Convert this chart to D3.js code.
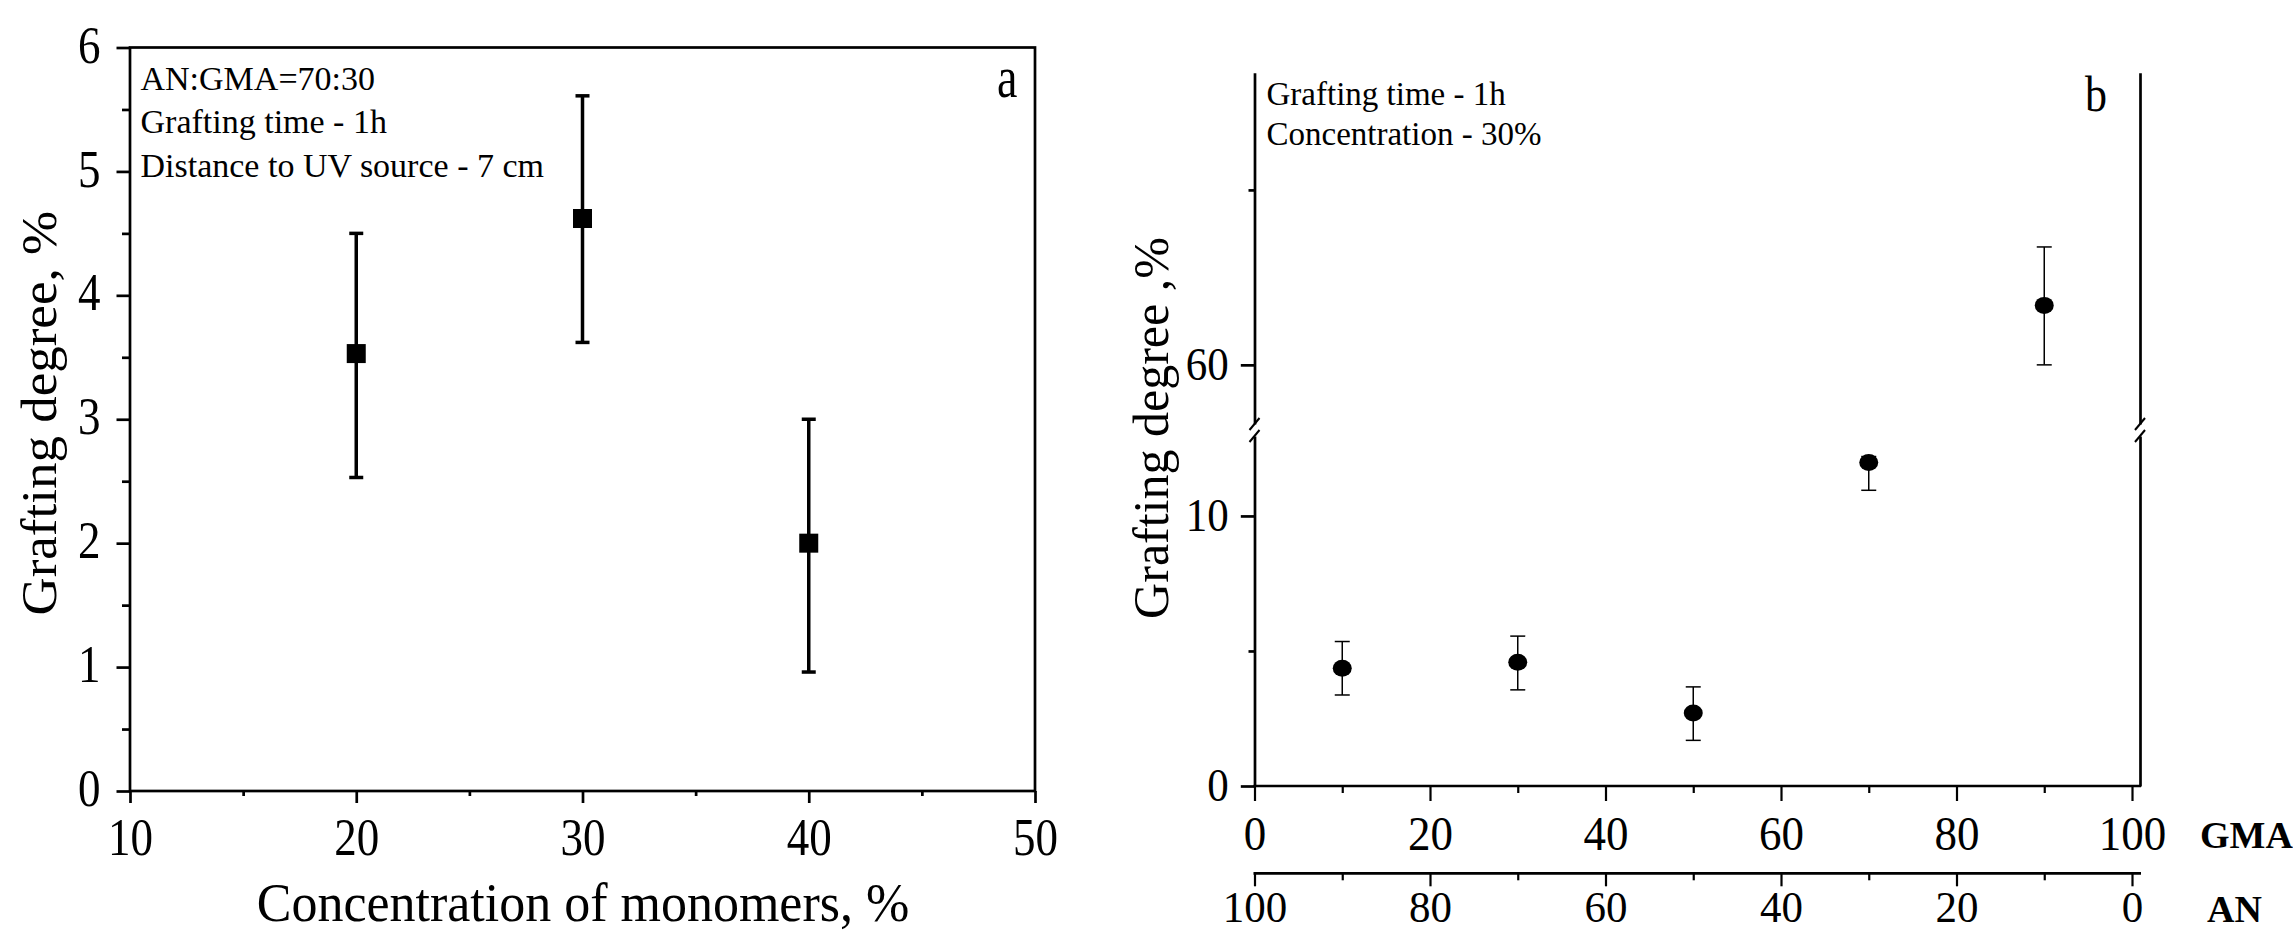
<!DOCTYPE html>
<html><head><meta charset="utf-8">
<script src="https://cdn.jsdelivr.net/npm/d3@7"></script>
<style>html,body{margin:0;padding:0;background:#fff;overflow:hidden}</style>
</head><body><svg id="chart" width="2293" height="934"></svg>
<script>
// ---------- data: panel a ----------
const concTicks = [10, 20, 30, 40, 50];
const concMinor = [15, 25, 35, 45];
const aConc = [20, 30, 40];
const aDegree = [3.53, 4.62, 2.00];
const aErrUp = [0.97, 0.99, 1.00];
const aErrDown = [1.00, 1.00, 1.04];
const aYTicks = [0, 1, 2, 3, 4, 5, 6];
const aYMinor = [0.5, 1.5, 2.5, 3.5, 4.5, 5.5];
const aNotes = ["AN:GMA=70:30", "Grafting time - 1h", "Distance to UV source - 7 cm"];

// ---------- data: panel b ----------
const bGMA = [10, 30, 50, 70, 90];
const bDegree = [4.36, 4.58, 2.70, 11.98, 61.70];
const bErrUp = [0.99, 0.97, 0.97, 0.22, 1.67];
const bErrDown = [0.99, 1.02, 1.01, 1.03, 1.70];
const gmaTicks = [0, 20, 40, 60, 80, 100];
const gmaMinor = [10, 30, 50, 70, 90];
const anTicks = [100, 80, 60, 40, 20, 0];
const anMinor = [90, 70, 50, 30, 10];
const bLowTicks = [0, 10];
const bLowMinor = [5];
const bHighTicks = [60];
const bHighMinor = [65];
const bNotes = ["Grafting time - 1h", "Concentration - 30%"];

const FONT = "'Liberation Serif','Times New Roman',serif";
const fmt = d3.format("d");
const svg = d3.select("#chart");
svg.append("rect").attr("width", 2293).attr("height", 934).attr("fill", "#fff");

function styleAxis(g, w, fs, sy, ty, dy) {
  g.selectAll("line").attr("stroke", "#000").attr("stroke-width", w);
  g.selectAll("path.domain").attr("stroke", "#000").attr("stroke-width", w);
  g.selectAll("text").attr("fill", "#000").style("font-family", FONT).style("font-size", fs + "px");
  if (sy) {
    g.selectAll("text").attr("transform", `scale(1,${sy})`);
  }
  if (ty !== undefined) g.selectAll("text").attr("y", ty).attr("dy", dy || 0);
  g.attr("font-family", null).attr("font-size", null);
}

// =============== PANEL A ===============
const A = {l: 130, r: 1035, t: 47.5, b: 791};
const xa = d3.scaleLinear().domain([10, 50]).range([A.l, A.r]);
const ya = d3.scaleLinear().domain([0, 6]).range([A.b, A.t]);
const ga = svg.append("g");

ga.append("rect").attr("x", A.l).attr("y", A.t).attr("width", A.r - A.l).attr("height", A.b - A.t)
  .attr("fill", "none").attr("stroke", "#000").attr("stroke-width", 2.7);

const aLeft = ga.append("g").attr("transform", `translate(${A.l},0)`)
  .call(d3.axisLeft(ya).tickValues(aYTicks).tickFormat(fmt).tickSize(13.5).tickPadding(16).tickSizeOuter(0));
aLeft.select("path.domain").remove();
styleAxis(aLeft, 2.7, 45, 1.16, 0, "0.28em");

const aLeftMinor = ga.append("g").attr("transform", `translate(${A.l},0)`)
  .call(d3.axisLeft(ya).tickValues(aYMinor).tickSize(8).tickFormat("").tickSizeOuter(0));
aLeftMinor.select("path.domain").remove();
styleAxis(aLeftMinor, 2.7);

const aBottom = ga.append("g").attr("transform", `translate(0,${A.b})`)
  .call(d3.axisBottom(xa).tickValues(concTicks).tickFormat(fmt).tickSize(12).tickSizeOuter(0));
aBottom.select("path.domain").remove();
styleAxis(aBottom, 2.7, 45, 1.16, 64 / 1.16, 0);

const aBottomMinor = ga.append("g").attr("transform", `translate(0,${A.b})`)
  .call(d3.axisBottom(xa).tickValues(concMinor).tickSize(5).tickFormat("").tickSizeOuter(0));
aBottomMinor.select("path.domain").remove();
styleAxis(aBottomMinor, 2.7);

// error bars a
const aData = aConc.map((c, i) => ({x: c, y: aDegree[i], up: aErrUp[i], dn: aErrDown[i]}));
const aErr = ga.append("g").attr("stroke", "#000").attr("stroke-width", 3.5);
aErr.selectAll("line.v").data(aData).join("line").attr("class", "v")
  .attr("x1", d => xa(d.x)).attr("x2", d => xa(d.x))
  .attr("y1", d => ya(d.y + d.up)).attr("y2", d => ya(d.y - d.dn));
aErr.selectAll("line.ct").data(aData).join("line").attr("class", "ct")
  .attr("x1", d => xa(d.x) - 7).attr("x2", d => xa(d.x) + 7)
  .attr("y1", d => ya(d.y + d.up)).attr("y2", d => ya(d.y + d.up));
aErr.selectAll("line.cb").data(aData).join("line").attr("class", "cb")
  .attr("x1", d => xa(d.x) - 7).attr("x2", d => xa(d.x) + 7)
  .attr("y1", d => ya(d.y - d.dn)).attr("y2", d => ya(d.y - d.dn));
ga.selectAll("rect.pt").data(aData).join("rect").attr("class", "pt")
  .attr("x", d => xa(d.x) - 9.5).attr("y", d => ya(d.y) - 9.5)
  .attr("width", 19).attr("height", 19).attr("fill", "#000");

// annotations a
ga.selectAll("text.note").data(aNotes).join("text").attr("class", "note")
  .attr("x", 140.5).attr("y", (d, i) => 89.5 + i * 43.6)
  .style("font-family", FONT).style("font-size", "34px").text(d => d);
ga.append("text").attr("transform", "translate(997,97) scale(1,1.3)")
  .style("font-family", FONT).style("font-size", "46px").text("a");

ga.append("text").attr("transform", "translate(583,921) scale(1,1.05)").attr("text-anchor", "middle")
  .style("font-family", FONT).style("font-size", "52px").text("Concentration of monomers, %");
ga.append("text").attr("transform", `translate(56,${(A.t + A.b) / 2 - 6}) rotate(-90) scale(1.06,1)`)
  .attr("text-anchor", "middle")
  .style("font-family", FONT).style("font-size", "50px").text("Grafting degree, %");

// =============== PANEL B ===============
const B = {l: 1254.5, r: 2140, t: 72.7, b: 786, lowTop: 436, highBot: 424, anY: 873.3};
const xb = d3.scaleLinear().domain([0, 100]).range([B.l, 2132]);
const xan = d3.scaleLinear().domain([100, 0]).range([B.l, 2132]);
const yLow = d3.scaleLinear().domain([0, 12.96]).range([B.b, B.lowTop]);
const yHigh = d3.scaleLinear().domain([58.31, 68.35]).range([B.highBot, B.t]);
const yb = v => (v >= 58 ? yHigh(v) : yLow(v));
const gb = svg.append("g");

// left axis (broken)
const bLeftLow = gb.append("g").attr("transform", `translate(${B.l},0)`)
  .call(d3.axisLeft(yLow).tickValues(bLowTicks).tickFormat(fmt).tickSize(13.7).tickPadding(12).tickSizeOuter(0));
styleAxis(bLeftLow, 2.7, 43, 1.1, 0, "0.3em");
const bLeftLowMinor = gb.append("g").attr("transform", `translate(${B.l},0)`)
  .call(d3.axisLeft(yLow).tickValues(bLowMinor).tickSize(6).tickFormat("").tickSizeOuter(0));
bLeftLowMinor.select("path.domain").remove();
styleAxis(bLeftLowMinor, 2.7);
const bLeftHigh = gb.append("g").attr("transform", `translate(${B.l},0)`)
  .call(d3.axisLeft(yHigh).tickValues(bHighTicks).tickFormat(fmt).tickSize(13.7).tickPadding(12).tickSizeOuter(0));
styleAxis(bLeftHigh, 2.7, 43, 1.1, 0, "0.3em");
const bLeftHighMinor = gb.append("g").attr("transform", `translate(${B.l},0)`)
  .call(d3.axisLeft(yHigh).tickValues(bHighMinor).tickSize(6).tickFormat("").tickSizeOuter(0));
bLeftHighMinor.select("path.domain").remove();
styleAxis(bLeftHighMinor, 2.7);

// right axis (broken, no ticks)
[yLow, yHigh].forEach(s => {
  const g = gb.append("g").attr("transform", `translate(${B.r},0)`)
    .call(d3.axisRight(s).tickValues([]).tickSizeOuter(0));
  styleAxis(g, 2.7);
});

// break marks
[B.l, B.r].forEach(x => {
  [B.highBot, B.lowTop].forEach(y => {
    gb.append("line").attr("x1", x - 5).attr("y1", y + 6).attr("x2", x + 5).attr("y2", y - 6)
      .attr("stroke", "#000").attr("stroke-width", 2);
  });
});

// GMA axis
gb.append("line").attr("x1", B.l - 1).attr("x2", B.r + 1).attr("y1", B.b).attr("y2", B.b)
  .attr("stroke", "#000").attr("stroke-width", 2.7);
const bGmaAxis = gb.append("g").attr("transform", `translate(0,${B.b})`)
  .call(d3.axisBottom(xb).tickValues(gmaTicks).tickFormat(fmt).tickSize(15).tickSizeOuter(0));
bGmaAxis.select("path.domain").remove();
styleAxis(bGmaAxis, 2.2, 45, 1.08, 64 / 1.08, 0);
const bGmaMinor = gb.append("g").attr("transform", `translate(0,${B.b})`)
  .call(d3.axisBottom(xb).tickValues(gmaMinor).tickSize(7).tickFormat("").tickSizeOuter(0));
bGmaMinor.select("path.domain").remove();
styleAxis(bGmaMinor, 2.2);

// AN axis
gb.append("line").attr("x1", B.l - 1).attr("x2", B.r + 1).attr("y1", B.anY).attr("y2", B.anY)
  .attr("stroke", "#000").attr("stroke-width", 2.7);
const bAnAxis = gb.append("g").attr("transform", `translate(0,${B.anY})`)
  .call(d3.axisBottom(xan).tickValues(anTicks).tickFormat(fmt).tickSize(13).tickSizeOuter(0));
bAnAxis.select("path.domain").remove();
styleAxis(bAnAxis, 2.2, 43, 1.05, 49 / 1.05, 0);
const bAnMinor = gb.append("g").attr("transform", `translate(0,${B.anY})`)
  .call(d3.axisBottom(xan).tickValues(anMinor).tickSize(7).tickFormat("").tickSizeOuter(0));
bAnMinor.select("path.domain").remove();
styleAxis(bAnMinor, 2.2);

gb.append("text").attr("x", 2200).attr("y", 848).style("font-family", FONT).style("font-weight", "bold")
  .style("font-size", "38px").text("GMA");
gb.append("text").attr("x", 2207).attr("y", 922).style("font-family", FONT).style("font-weight", "bold")
  .style("font-size", "38px").text("AN");

// data b
const bData = bGMA.map((g, i) => ({x: g, y: bDegree[i], up: bErrUp[i], dn: bErrDown[i]}));
const bErr = gb.append("g").attr("stroke", "#000").attr("stroke-width", 1.5);
bErr.selectAll("line.v").data(bData).join("line").attr("class", "v")
  .attr("x1", d => xb(d.x)).attr("x2", d => xb(d.x))
  .attr("y1", d => yb(d.y + d.up)).attr("y2", d => yb(d.y - d.dn));
bErr.selectAll("line.ct").data(bData).join("line").attr("class", "ct")
  .attr("x1", d => xb(d.x) - 7.5).attr("x2", d => xb(d.x) + 7.5)
  .attr("y1", d => yb(d.y + d.up)).attr("y2", d => yb(d.y + d.up));
bErr.selectAll("line.cb").data(bData).join("line").attr("class", "cb")
  .attr("x1", d => xb(d.x) - 7.5).attr("x2", d => xb(d.x) + 7.5)
  .attr("y1", d => yb(d.y - d.dn)).attr("y2", d => yb(d.y - d.dn));
gb.selectAll("ellipse.pt").data(bData).join("ellipse").attr("class", "pt")
  .attr("cx", d => xb(d.x)).attr("cy", d => yb(d.y)).attr("rx", 9.5).attr("ry", 8.5).attr("fill", "#000");

// annotations b
gb.selectAll("text.note").data(bNotes).join("text").attr("class", "note")
  .attr("x", 1266.5).attr("y", (d, i) => 105 + i * 40)
  .style("font-family", FONT).style("font-size", "33px").text(d => d);
gb.append("text").attr("transform", "translate(2085,111) scale(1,1.15)")
  .style("font-family", FONT).style("font-size", "44px").text("b");
gb.append("text").attr("transform", "translate(1168,428) rotate(-90)")
  .attr("text-anchor", "middle")
  .style("font-family", FONT).style("font-size", "50px").text("Grafting degree ,%");
</script>
</body></html>
